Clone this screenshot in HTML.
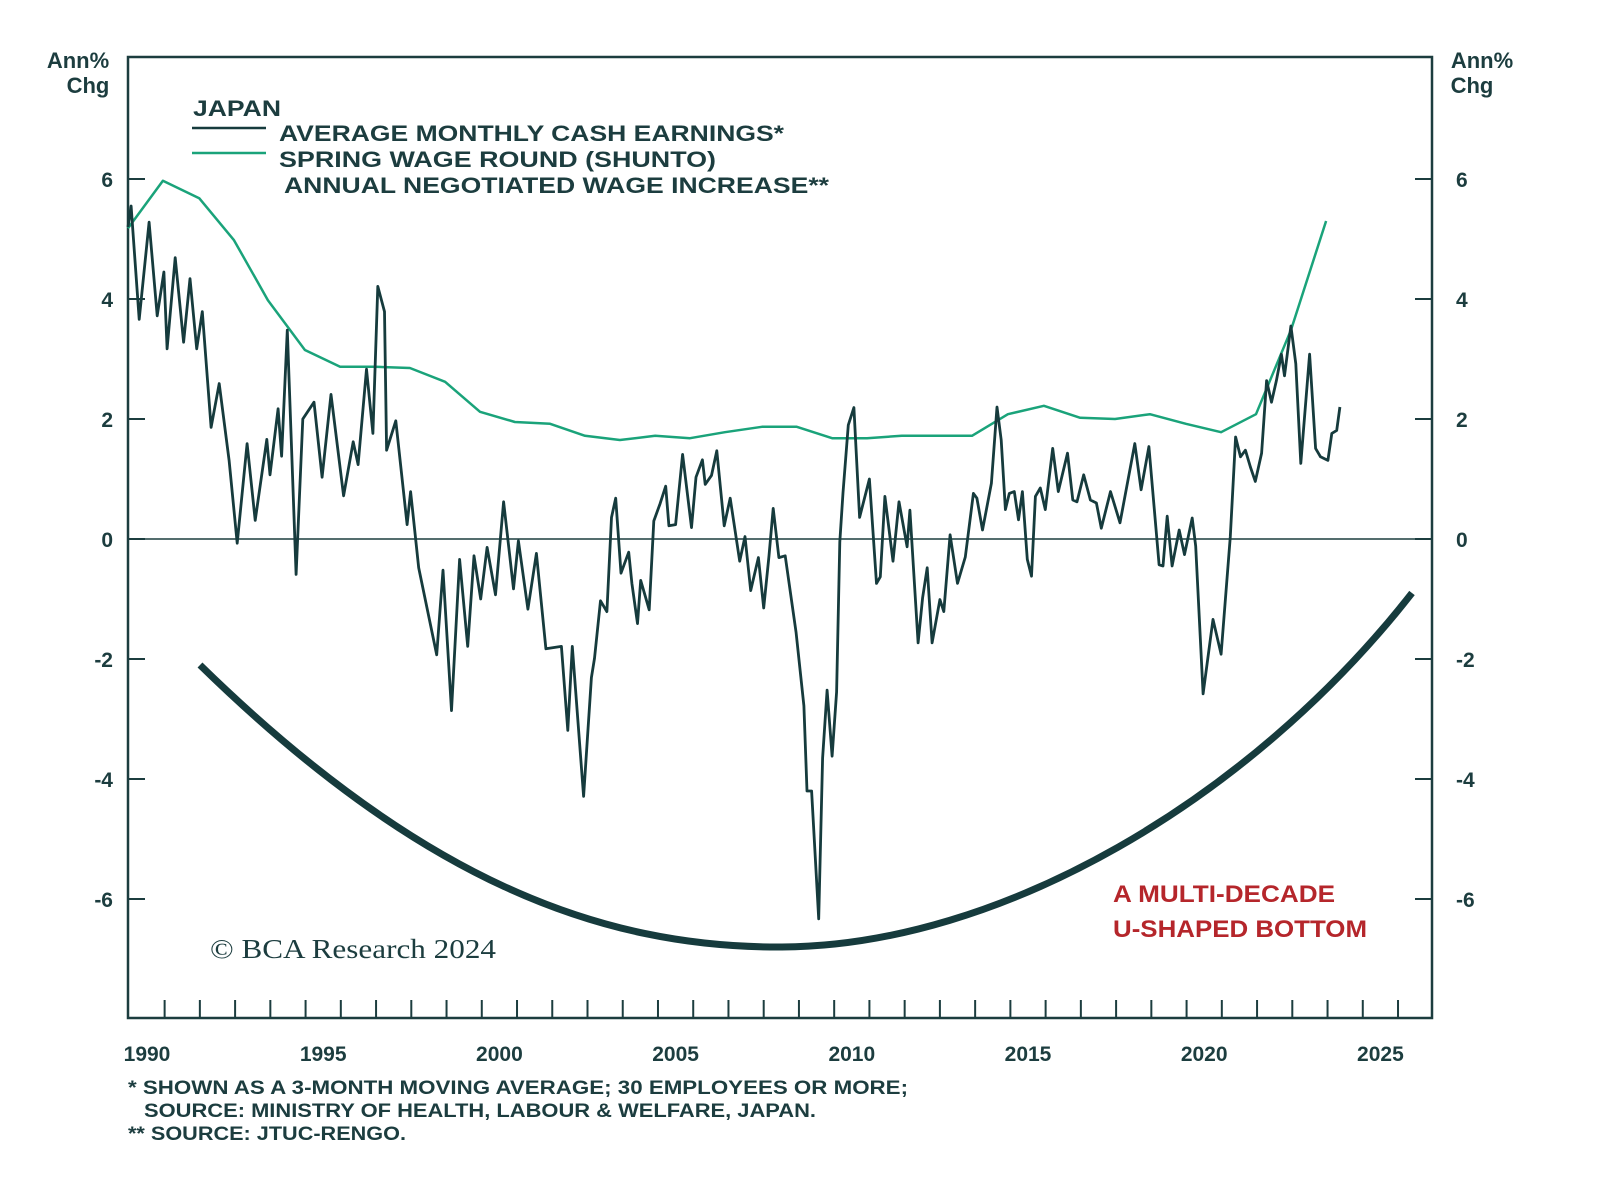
<!DOCTYPE html>
<html><head><meta charset="utf-8"><style>
html,body{margin:0;padding:0;background:#fff;}
svg{display:block;font-family:"Liberation Sans",sans-serif;}
</style></head><body>
<svg id="chart" width="1600" height="1186" viewBox="0 0 1600 1186" xmlns="http://www.w3.org/2000/svg">
<rect x="0" y="0" width="1600" height="1186" fill="#fff"/>
<g id="axes"></g>
<g id="series"></g>
<path d="M200,665 C420,880 600,948 782,947 C1000,946 1250,800 1412,593" fill="none" stroke="#163b3d" stroke-width="7"/>
<g fill="#1c3d3f" font-weight="bold" font-size="22">
<text x="78" y="68" text-anchor="middle">Ann%</text>
<text x="88" y="93" text-anchor="middle">Chg</text>
<text x="1482" y="68" text-anchor="middle">Ann%</text>
<text x="1472" y="93" text-anchor="middle">Chg</text>
<text x="193" y="116" textLength="88" lengthAdjust="spacingAndGlyphs">JAPAN</text>
<text x="279" y="141" textLength="505" lengthAdjust="spacingAndGlyphs">AVERAGE MONTHLY CASH EARNINGS*</text>
<text x="279" y="167" textLength="437" lengthAdjust="spacingAndGlyphs">SPRING WAGE ROUND (SHUNTO)</text>
<text x="284" y="193" textLength="545" lengthAdjust="spacingAndGlyphs">ANNUAL NEGOTIATED WAGE INCREASE**</text>
</g>
<line x1="192" y1="128" x2="266" y2="128" stroke="#163b3d" stroke-width="2.5"/>
<line x1="192" y1="153" x2="266" y2="153" stroke="#1aa37a" stroke-width="2.5"/>
<text x="210" y="958" font-family="Liberation Serif,serif" font-size="27" fill="#1c3d3f" textLength="286" lengthAdjust="spacingAndGlyphs">© BCA Research 2024</text>
<g fill="#b5262b" font-weight="bold" font-size="24">
<text x="1113" y="902" textLength="222" lengthAdjust="spacingAndGlyphs">A MULTI-DECADE</text>
<text x="1113" y="937" textLength="254" lengthAdjust="spacingAndGlyphs">U-SHAPED BOTTOM</text>
</g>
<g fill="#1c3d3f" font-weight="bold" font-size="19">
<text x="128" y="1094" textLength="780" lengthAdjust="spacingAndGlyphs">*  SHOWN AS A 3-MONTH MOVING AVERAGE; 30 EMPLOYEES OR MORE;</text>
<text x="144" y="1117" textLength="672" lengthAdjust="spacingAndGlyphs">SOURCE: MINISTRY OF HEALTH, LABOUR &amp; WELFARE, JAPAN.</text>
<text x="128" y="1140" textLength="278" lengthAdjust="spacingAndGlyphs">** SOURCE: JTUC-RENGO.</text>
</g>
</svg>
<script>
const yTicks = [6,4,2,0,-2,-4,-6];
const yearLabels = [1990,1995,2000,2005,2010,2015,2020,2025];
const earnYears = [1989.46,1989.55,1989.78,1990.06,1990.29,1990.48,1990.57,1990.8,1991.04,1991.22,1991.41,1991.57,1991.82,1992.05,1992.33,1992.56,1992.84,1993.07,1993.4,1993.49,1993.72,1993.82,1993.98,1994.23,1994.42,1994.74,1994.97,1995.22,1995.58,1995.85,1995.99,1996.23,1996.41,1996.55,1996.74,1996.8,1997.06,1997.38,1997.48,1997.71,1998.22,1998.4,1998.64,1998.87,1999.1,1999.28,1999.47,1999.65,1999.89,2000.12,2000.4,2000.54,2000.81,2001.05,2001.32,2001.76,2001.94,2002.07,2002.39,2002.61,2002.7,2002.87,2003.05,2003.18,2003.3,2003.45,2003.67,2003.76,2003.92,2004.01,2004.25,2004.38,2004.56,2004.72,2004.81,2005.0,2005.2,2005.45,2005.58,2005.76,2005.84,2006.02,2006.17,2006.38,2006.55,2006.82,2006.97,2007.13,2007.35,2007.5,2007.65,2007.77,2007.93,2008.11,2008.42,2008.64,2008.73,2008.86,2009.06,2009.17,2009.3,2009.44,2009.57,2009.66,2009.75,2009.9,2010.06,2010.22,2010.5,2010.7,2010.81,2010.94,2011.17,2011.34,2011.57,2011.65,2011.88,2012.01,2012.14,2012.28,2012.5,2012.61,2012.79,2013.0,2013.22,2013.45,2013.55,2013.71,2013.82,2013.96,2014.12,2014.24,2014.36,2014.47,2014.61,2014.73,2014.84,2014.98,2015.1,2015.21,2015.35,2015.49,2015.7,2015.86,2016.12,2016.27,2016.39,2016.58,2016.77,2016.94,2017.08,2017.34,2017.61,2018.03,2018.21,2018.43,2018.72,2018.83,2018.95,2019.09,2019.29,2019.44,2019.66,2019.76,2019.97,2020.25,2020.48,2020.74,2020.89,2021.03,2021.17,2021.31,2021.45,2021.63,2021.77,2021.91,2022.05,2022.19,2022.28,2022.46,2022.6,2022.74,2022.99,2023.16,2023.3,2023.51,2023.62,2023.76,2023.85];
const earnValues = [5.2,5.55,3.66,5.28,3.72,4.45,3.17,4.69,3.28,4.34,3.17,3.79,1.86,2.59,1.31,-0.07,1.59,0.31,1.66,1.07,2.17,1.38,3.48,-0.59,2.0,2.28,1.03,2.41,0.72,1.62,1.24,2.83,1.76,4.21,3.79,1.48,1.97,0.24,0.79,-0.48,-1.93,-0.52,-2.86,-0.34,-1.79,-0.28,-1.0,-0.14,-0.93,0.62,-0.83,-0.03,-1.17,-0.24,-1.83,-1.79,-3.19,-1.79,-4.29,-2.31,-1.99,-1.03,-1.21,0.36,0.68,-0.57,-0.22,-0.74,-1.41,-0.69,-1.18,0.3,0.59,0.88,0.22,0.24,1.41,0.19,1.03,1.32,0.91,1.06,1.47,0.22,0.68,-0.37,0.04,-0.86,-0.31,-1.15,-0.28,0.51,-0.31,-0.28,-1.56,-2.78,-4.2,-4.2,-6.33,-3.65,-2.52,-3.62,-2.55,-0.05,0.77,1.9,2.19,0.36,1.0,-0.74,-0.63,0.71,-0.37,0.62,-0.13,0.48,-1.73,-0.98,-0.48,-1.73,-1.01,-1.21,0.07,-0.74,-0.3,0.76,0.68,0.15,0.49,0.93,2.2,1.65,0.49,0.76,0.79,0.32,0.79,-0.34,-0.62,0.71,0.85,0.49,1.51,0.79,1.43,0.65,0.62,1.07,0.65,0.6,0.18,0.79,0.27,1.59,0.82,1.54,-0.43,-0.45,0.38,-0.45,0.15,-0.26,0.35,-0.12,-2.58,-1.34,-1.92,0.04,1.7,1.37,1.48,1.2,0.96,1.43,2.64,2.28,2.64,3.08,2.72,3.55,2.92,1.26,3.08,1.51,1.37,1.31,1.76,1.81,2.2];
const shuntoYears = [1989.46,1990.45,1991.48,1992.47,1993.43,1994.48,1995.48,1996.47,1997.46,1998.46,1999.45,2000.44,2001.44,2002.43,2003.42,2004.42,2005.41,2006.4,2007.45,2008.44,2009.44,2010.43,2011.42,2012.42,2013.41,2014.43,2015.45,2016.48,2017.47,2018.46,2019.48,2020.48,2021.47,2022.46,2023.46];
const shuntoValues = [5.18,5.97,5.68,4.98,3.98,3.15,2.87,2.87,2.85,2.62,2.12,1.95,1.92,1.72,1.65,1.72,1.68,1.78,1.87,1.87,1.68,1.68,1.72,1.72,1.72,2.08,2.22,2.02,2.0,2.08,1.92,1.78,2.08,3.48,5.3];

const L=128,R=1432,T=57,B=1018;
const xs = t => 147 + (t-1990)*35.24;
const ys = v => 539 - v*60;
const NS="http://www.w3.org/2000/svg";
const axes=document.getElementById('axes'), series=document.getElementById('series');
function mk(tag,attrs,parent){const e=document.createElementNS(NS,tag);for(const k in attrs)e.setAttribute(k,attrs[k]);parent.appendChild(e);return e;}
const frame=mk('rect',{x:L,y:T,width:R-L,height:B-T,fill:'none',stroke:'#1c3d3f','stroke-width':2.5},axes);


const zl=mk('line',{x1:L,x2:R,y1:ys(0),y2:ys(0),stroke:'#1c3d3f','stroke-width':1.5},axes);


yTicks.forEach(v=>{
  const y=ys(v);
  const t1=mk('line',{x1:L,x2:L+17,y1:y,y2:y,stroke:'#1c3d3f','stroke-width':2},axes);
  
  
  const t2=mk('line',{x1:R-17,x2:R,y1:y,y2:y,stroke:'#1c3d3f','stroke-width':2},axes);
  
  
  const a=mk('text',{x:113,y:y+8,'text-anchor':'end','font-size':21,'font-weight':'bold',fill:'#1c3d3f'},axes);a.textContent=v;
  
  
  const b=mk('text',{x:1456,y:y+8,'text-anchor':'start','font-size':21,'font-weight':'bold',fill:'#1c3d3f'},axes);b.textContent=v;
  
  
});
for(let yr=1990;yr<=2025;yr++){
  const x=xs(yr+0.5);
  if(x>=R-2)continue;
  const t=mk('line',{x1:x,x2:x,y1:B,y2:B-18,stroke:'#1c3d3f','stroke-width':2},axes);
  
  
}
yearLabels.forEach(yr=>{
  const t=mk('text',{x:xs(yr),y:1061,'text-anchor':'middle','font-size':21,'font-weight':'bold',fill:'#1c3d3f'},axes);t.textContent=yr;
  
  
});
function pts(xa,va){return xa.map((t,i)=>xs(t).toFixed(1)+','+ys(va[i]).toFixed(1)).join(' ');}
const g=mk('polyline',{points:pts(shuntoYears,shuntoValues),fill:'none',stroke:'#1aa37a','stroke-width':2.5,'stroke-linejoin':'round'},series);


const e=mk('polyline',{points:pts(earnYears,earnValues),fill:'none',stroke:'#163b3d','stroke-width':2.8,'stroke-linejoin':'round'},series);


</script>
</body></html>
